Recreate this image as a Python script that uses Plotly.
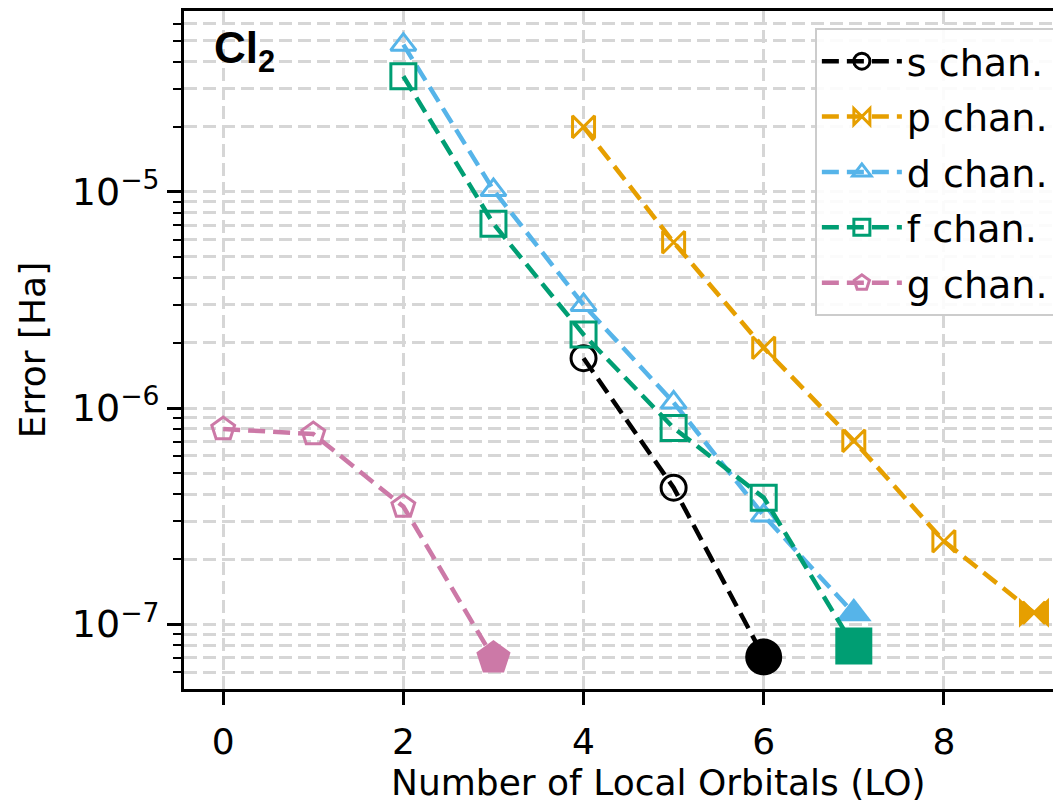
import plotly.graph_objects as go

# ---------------- data ----------------
names = ["s chan.", "p chan.", "d chan.", "f chan.", "g chan."]
s_x = [4, 5, 6]
s_y = [1.70e-6, 4.28e-7, 7.05e-8]
p_x = [4, 5, 6, 7, 8, 9]
p_y = [2.0e-5, 5.85e-6, 1.90e-6, 7.05e-7, 2.42e-7, 1.13e-7]
d_x = [2, 3, 4, 5, 6, 7]
d_y = [4.8e-5, 1.02e-5, 3.0e-6, 1.06e-6, 3.18e-7, 1.12e-7]
f_x = [2, 3, 4, 5, 6, 7]
f_y = [3.43e-5, 7.12e-6, 2.19e-6, 8.09e-7, 3.85e-7, 7.92e-8]
g_x = [0, 1, 2, 3]
g_y = [8.0e-7, 7.58e-7, 3.50e-7, 6.97e-8]

xs = [s_x, p_x, d_x, f_x, g_x]
ys = [s_y, p_y, d_y, f_y, g_y]
colors = ["#000000", "#E69F00", "#56B4E9", "#009E73", "#CC79A7"]
symbols = ["circle", "bowtie", "triangle-up", "square", "pentagon"]
open_sizes = [25, 22, 22, 25, 24]
fill_sizes = [37, 30, 31, 37, 36]

x_ticks = [0, 2, 4, 6, 8]
y_ticks = [1e-7, 1e-6, 1e-5]
y_ticktext = ["10<sup>\u22127</sup>", "10<sup>\u22126</sup>", "10<sup>\u22125</sup>"]
y_minor = [m * 10.0 ** e for e in range(-8, -4) for m in range(2, 10)]

FONT = "DejaVu Sans"
FS = 38
TICKFS = 36
TITLEFS = 36
GRID = "#d6d6d6"

fig = go.Figure()
for i in range(5):
    fig.add_trace(go.Scatter(
        x=xs[i], y=ys[i], mode="lines+markers", name=names[i],
        legendgroup=names[i],
        line=dict(color=colors[i], width=4.5, dash="17px,8px"),
        marker=dict(symbol=symbols[i] + "-open", size=open_sizes[i],
                    color=colors[i], line=dict(width=3, color=colors[i])),
    ))
    fig.add_trace(go.Scatter(
        x=[xs[i][-1]], y=[ys[i][-1]], mode="markers", showlegend=False,
        legendgroup=names[i],
        marker=dict(symbol=symbols[i], size=fill_sizes[i], color=colors[i],
                    line=dict(width=0)),
    ))

fig.add_annotation(
    text="<b>Cl<sub>2</sub></b>", xref="paper", yref="paper",
    x=0.032, y=0.985, xanchor="left", yanchor="top", showarrow=False,
    font=dict(family="Liberation Sans", size=44, color="black"),
)
# x-axis title
fig.add_annotation(
    text="Number of Local Orbitals (LO)", xref="paper", yref="paper",
    x=0.5416, y=-0.138, xanchor="center", yanchor="middle", showarrow=False,
    font=dict(family=FONT, size=TITLEFS, color="black"),
)

fig.update_layout(
    width=1061, height=802,
    margin=dict(l=176, r=8, t=0, b=121),
    paper_bgcolor="white", plot_bgcolor="white",
    font=dict(family=FONT, size=FS, color="black"),
    showlegend=True,
    legend=dict(
        x=0.993, y=0.975, xanchor="right", yanchor="top",
        bgcolor="rgba(255,255,255,0.9)", bordercolor="#cccccc", borderwidth=2,
        font=dict(family=FONT, size=FS, color="black"),
        tracegroupgap=3, itemwidth=80,
    ),
    xaxis=dict(
        range=[-0.435, 9.3], tickmode="array", tickvals=x_ticks,
        ticks="outside", ticklen=13, tickwidth=3, tickcolor="black",
        ticklabelstandoff=6,
        showline=True, linewidth=3, linecolor="black", mirror=True,
        showgrid=True, gridcolor=GRID, gridwidth=2.5, griddash="13px,6px",
        zeroline=False,
        tickfont=dict(size=TICKFS),
    ),
    yaxis=dict(
        type="log", range=[-7.30, -4.163], tickmode="array",
        tickvals=y_ticks, ticktext=y_ticktext,
        ticks="outside", ticklen=14, tickwidth=3, tickcolor="black",
        showline=True, linewidth=3, linecolor="black", mirror=False,
        showgrid=True, gridcolor=GRID, gridwidth=2.5, griddash="13px,6px",
        zeroline=False,
        minor=dict(tickmode="array", tickvals=y_minor, ticks="outside",
                   ticklen=8, tickwidth=2.4, tickcolor="black",
                   showgrid=True, gridcolor=GRID, gridwidth=2.5,
                   griddash="13px,6px"),
        title=dict(text="Error [Ha]", font=dict(size=TITLEFS), standoff=16),
        tickfont=dict(size=FS),
    ),
)

fig.write_html("out.html")
